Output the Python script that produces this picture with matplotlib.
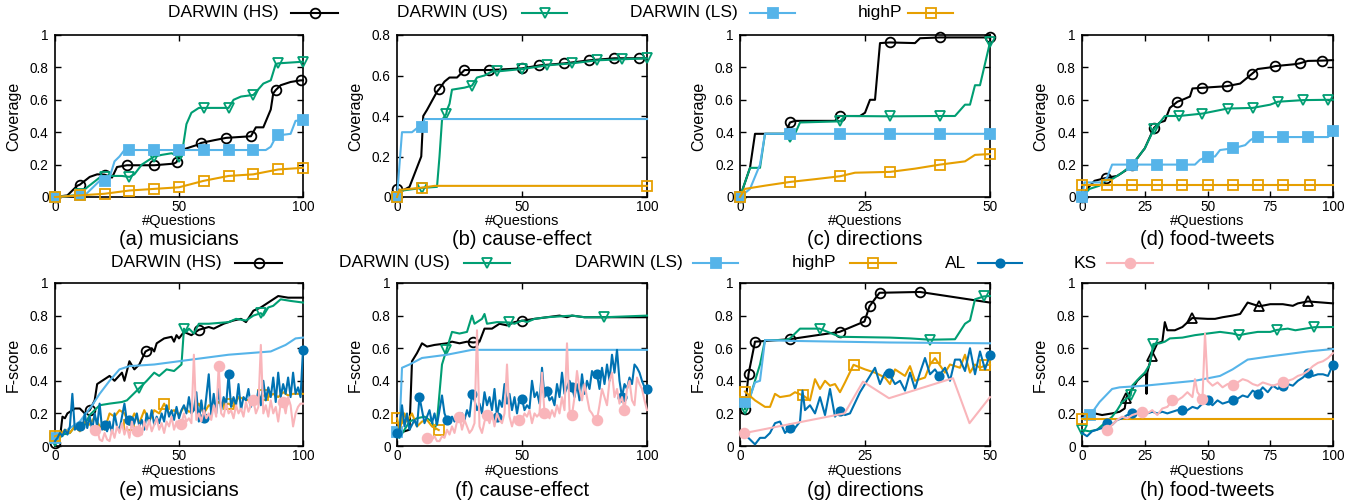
import numpy as np
import matplotlib
matplotlib.use("Agg")
import matplotlib.pyplot as plt
from matplotlib.lines import Line2D

plt.rcParams['font.family'] = ['Liberation Sans', 'DejaVu Sans']

# ---------------- data ----------------
# (a) coverage musicians
A_HS_X = [0,5,9,10,14,17,20,23,25,29,40,48,49,51,53,57,59,64,69,79,81,84,87,88,89,91,95,99,100]
A_HS_Y = [0,0.01,0.07,0.076,0.124,0.14,0.138,0.12,0.185,0.196,0.196,0.206,0.215,0.29,0.3,0.32,0.334,0.35,0.365,0.375,0.43,0.43,0.54,0.64,0.66,0.69,0.71,0.72,0.72]
A_HS_M = [0,10,20,29,40,49,59,69,79,89,99]
A_US_X = [0,8,10,13,18,20,22,27,30,32,35,39,40,43,47,50,51,53,55,58,60,68,70,72,75,80,84,87,89,90,95,100]
A_US_Y = [0,0.01,0.02,0.06,0.12,0.125,0.13,0.13,0.124,0.14,0.2,0.24,0.25,0.26,0.27,0.25,0.25,0.45,0.52,0.55,0.55,0.55,0.55,0.6,0.62,0.63,0.7,0.72,0.82,0.825,0.83,0.835]
A_US_M = [0,10,20,30,40,50,60,70,80,90,100]
A_LS_X = [0,10,12,18,20,22,24,26,28,30,40,50,60,70,80,85,87,89,90,95,97,100]
A_LS_Y = [0,0.01,0.01,0.1,0.1,0.12,0.22,0.25,0.29,0.29,0.29,0.29,0.29,0.29,0.29,0.29,0.31,0.37,0.38,0.39,0.47,0.475]
A_LS_M = [0,10,20,30,40,50,60,70,80,90,100]
A_HP_X = [0,10,20,30,40,50,55,60,70,80,90,100]
A_HP_Y = [0,0.01,0.02,0.04,0.05,0.06,0.08,0.1,0.13,0.14,0.17,0.18]
A_HP_M = [0,10,20,30,40,50,60,70,80,90,100]

# (b) coverage cause-effect
B_HS_X = [0,2,5,9.7,10.5,12,16,17,19,21,24,27,37,45,50,57,67,77,87,97,100]
B_HS_Y = [0.04,0.03,0.05,0.2,0.4,0.43,0.52,0.535,0.57,0.59,0.59,0.627,0.627,0.632,0.635,0.65,0.66,0.675,0.685,0.685,0.685]
B_HS_M = [0,17,27,37,50,57,67,77,87,97]
B_US_X = [0,1,10,16,17,18,19.7,20,21,22,27,30,32,35,38,40,50,60,70,80,90,100]
B_US_Y = [0,0.03,0.045,0.05,0.2,0.38,0.41,0.43,0.46,0.53,0.54,0.55,0.59,0.6,0.62,0.62,0.632,0.65,0.66,0.675,0.68,0.685]
B_US_M = [10,19.7,30,40,50,60,70,80,90,100]
B_LS_X = [0,2,6,8,10,11,100]
B_LS_Y = [0,0.32,0.32,0.34,0.346,0.385,0.385]
B_LS_M = [0,10]
B_HP_X = [0,1,5,10,15,100]
B_HP_Y = [0,0.035,0.04,0.046,0.055,0.055]
B_HP_M = [0,10,100]

# (c) coverage directions
C_HS_X = [0,2,3,9,10,11,19,20,24,25,26,27,28,30,35,36,40,50]
C_HS_Y = [0,0.18,0.39,0.39,0.46,0.47,0.47,0.5,0.5,0.52,0.6,0.6,0.95,0.954,0.95,0.98,0.985,0.985]
C_HS_M = [0,10,20,30,40,50]
C_US_X = [0,2,4,5,9,10,11,12,20,21,30,40,43,45,46,47,48,50]
C_US_Y = [0,0.18,0.18,0.39,0.39,0.373,0.39,0.46,0.467,0.5,0.498,0.5,0.5,0.57,0.57,0.69,0.69,0.955]
C_US_M = [0,10,20,30,40,50]
C_LS_X = [0,2,4,5,10,20,30,40,50]
C_LS_Y = [0,0.05,0.2,0.39,0.39,0.39,0.39,0.39,0.39]
C_LS_M = [0,10,20,30,40,50]
C_HP_X = [0,1,5,10,15,20,23,30,35,40,45,47,50]
C_HP_Y = [0,0.05,0.07,0.093,0.11,0.128,0.15,0.155,0.175,0.2,0.22,0.26,0.265]
C_HP_M = [0,10,20,30,40,50]

# (d) coverage food-tweets
D_HS_X = [0,2,5,9.6,14,18,20,24,25,28.7,31,33,35,38,40,43,44,47.7,57.7,63,67.7,70,75,77,85,86.7,90,95.7,100]
D_HS_Y = [0,0.05,0.1,0.118,0.13,0.17,0.196,0.28,0.3,0.427,0.46,0.47,0.55,0.588,0.6,0.62,0.67,0.674,0.684,0.7,0.76,0.79,0.8,0.808,0.82,0.825,0.84,0.842,0.845]
D_HS_M = [0,9.6,20,28.7,38,47.7,57.7,67.7,77,86.7,95.7]
D_US_X = [0,3,7,9,12,16,20,24,25,28.7,31,33,38.7,48,58,68,75,78,88,98,100]
D_US_Y = [0,0.05,0.07,0.1,0.11,0.15,0.2,0.28,0.3,0.42,0.46,0.5,0.5,0.515,0.546,0.55,0.57,0.588,0.598,0.6,0.6]
D_US_M = [28.7,38.7,48,58,68,78,88,98]
D_LS_X = [0,1,8,10,12,20,30,40,45,47,50,53,55,60,65,67,69,70,80,90,98,100]
D_LS_Y = [0,0.09,0.09,0.12,0.2,0.2,0.2,0.2,0.2,0.23,0.25,0.25,0.29,0.3,0.32,0.35,0.37,0.37,0.37,0.37,0.37,0.41]
D_LS_M = [0,20,30,40,50,60,70,80,90,100]
D_HP_X = [0,10,20,30,40,50,60,70,80,91,100]
D_HP_Y = [0.075,0.075,0.075,0.075,0.075,0.075,0.075,0.075,0.075,0.075,0.075]
D_HP_M = [0,10,20,30,40,50,60,70,80,91]

# (e) F-score musicians
E_HS_X = [0,2,3,4,5,8,10,12,14,16,17,19,22,24,27,28,30,32,34,36.5,39,40,41,44,47,48,49,50,52,55,58,62,64,68,72,75,77,80,83,86,90,94,100]
E_HS_Y = [0.02,0.05,0.18,0.17,0.2,0.23,0.23,0.2,0.22,0.28,0.38,0.4,0.43,0.4,0.45,0.4,0.52,0.47,0.5,0.58,0.6,0.58,0.63,0.66,0.67,0.64,0.68,0.66,0.7,0.68,0.713,0.73,0.72,0.75,0.77,0.78,0.76,0.83,0.85,0.88,0.92,0.91,0.91]
E_HS_M = [0,14,36.5,58]
E_US_X = [0,2,3,6,8,12,14,18,22,27,29,34,37,40,42,45,48,51,52,53,54,56,58,62,70,73,77,78,80,83,84,86,88,91,95,100]
E_US_Y = [0.03,0.05,0.07,0.08,0.12,0.13,0.19,0.25,0.26,0.27,0.28,0.355,0.4,0.45,0.43,0.47,0.46,0.5,0.72,0.7,0.72,0.69,0.75,0.75,0.76,0.78,0.77,0.78,0.8,0.815,0.8,0.85,0.86,0.9,0.89,0.88]
E_US_M = [0,34,52,83]
E_LS_X = [0,5,10,15,18,22,26,30,40,50,60,70,87,90,93,97,100]
E_LS_Y = [0.05,0.1,0.15,0.25,0.32,0.4,0.47,0.49,0.5,0.52,0.54,0.56,0.58,0.6,0.62,0.66,0.665]
E_LS_M = [0]
E_HP_X = list(range(0, 101, 2))
E_HP_Y = [0.06,0.07,0.1,0.08,0.12,0.09,0.15,0.13,0.18,0.12,0.1,0.2,0.18,0.22,0.2,0.13,0.2,0.14,0.22,0.15,
          0.22,0.2,0.26,0.2,0.22,0.19,0.24,0.21,0.22,0.26,0.2,0.25,0.24,0.27,0.25,0.26,0.24,0.3,0.29,0.28,
          0.3,0.29,0.31,0.3,0.32,0.3,0.33,0.31,0.32,0.32,0.32]
E_HP_M = [0,30,44,70,84]
E_AL_X = list(range(0, 101))
E_AL_Y = [0.03,0.05,0.08,0.06,0.1,0.07,0.12,0.32,0.1,0.12,
          0.12,0.1,0.2,0.11,0.18,0.1,0.2,0.12,0.26,0.1,
          0.13,0.09,0.15,0.08,0.2,0.12,0.1,0.18,0.26,0.15,
          0.16,0.12,0.14,0.2,0.12,0.16,0.1,0.2,0.14,0.22,
          0.13,0.18,0.14,0.2,0.15,0.25,0.18,0.22,0.16,0.24,
          0.17,0.22,0.25,0.2,0.3,0.2,0.22,0.33,0.15,0.28,
          0.17,0.3,0.44,0.19,0.32,0.2,0.35,0.22,0.3,0.25,
          0.44,0.24,0.3,0.25,0.38,0.22,0.3,0.28,0.35,0.24,
          0.3,0.26,0.34,0.25,0.4,0.28,0.36,0.3,0.42,0.27,
          0.45,0.3,0.38,0.32,0.42,0.3,0.45,0.32,0.36,0.3,
          0.59]
E_AL_M = [10,20,30,60,70,100]
E_KS_X = list(range(15, 101))
E_KS_Y = [0.12,0.1,0.1,0.04,0.03,0.08,0.04,0.03,0.1,0.05,
          0.12,0.08,0.14,0.07,0.12,0.05,0.15,0.08,0.09,0.13,
          0.07,0.15,0.1,0.16,0.09,0.13,0.17,0.1,0.14,0.08,
          0.15,0.12,0.18,0.1,0.15,0.13,0.135,0.2,0.15,0.17,
          0.14,0.56,0.16,0.2,0.15,0.22,0.17,0.2,0.16,0.25,
          0.18,0.49,0.2,0.18,0.26,0.2,0.22,0.17,0.25,0.2,
          0.23,0.18,0.27,0.21,0.25,0.28,0.2,0.24,0.62,0.2,
          0.25,0.18,0.28,0.2,0.24,0.15,0.26,0.27,0.2,0.3,
          0.25,0.12,0.2,0.24,0.26,0.26]
E_KS_M = [16,33,51,66,80,92]

# (f) F-score cause-effect
F_HS_X = [0,3,5,6,8,10,12,15,20,22,25,28,30.5,33,35,38,41,44,47,50,55,60,65,68,70,75,100]
F_HS_Y = [0.08,0.09,0.1,0.52,0.57,0.63,0.61,0.62,0.63,0.64,0.63,0.64,0.635,0.64,0.72,0.72,0.75,0.74,0.76,0.768,0.78,0.79,0.8,0.79,0.8,0.79,0.79]
F_HS_M = [30.5,50]
F_US_X = [0,1,3,5,8,11,14,15,16,18,19.8,20,22,25,28,30,31,34,35,36,40,44.8,47,50,52,55,60,70,75,83,100]
F_US_Y = [0.1,0.05,0.1,0.15,0.17,0.18,0.15,0.1,0.15,0.5,0.59,0.6,0.7,0.69,0.7,0.8,0.75,0.78,0.81,0.75,0.76,0.758,0.75,0.77,0.76,0.78,0.79,0.8,0.79,0.79,0.8]
F_US_M = [19.8,44.8,83]
F_LS_X = [0,1,2,5,10,20,30,100]
F_LS_Y = [0.088,0.1,0.48,0.5,0.54,0.56,0.59,0.59]
F_LS_M = [0]
F_HP_X = [0,1,3,4,6,8,10,12,14,16.7]
F_HP_Y = [0.17,0.1,0.2,0.15,0.2,0.12,0.15,0.16,0.12,0.098]
F_HP_M = [0,16.7]
F_AL_X = list(range(0, 101))
F_AL_Y = [0.08,0.1,0.25,0.12,0.2,0.1,0.13,0.16,0.12,0.3,
          0.22,0.14,0.18,0.22,0.14,0.2,0.13,0.22,0.31,0.2,
          0.16,0.14,0.18,0.15,0.19,0.17,0.2,0.16,0.22,0.18,
          0.32,0.28,0.22,0.26,0.2,0.33,0.25,0.3,0.22,0.35,
          0.18,0.28,0.24,0.38,0.26,0.32,0.22,0.3,0.2,0.29,
          0.29,0.22,0.25,0.23,0.4,0.3,0.33,0.26,0.48,0.3,
          0.34,0.28,0.3,0.25,0.38,0.3,0.45,0.32,0.36,0.4,
          0.36,0.3,0.38,0.28,0.44,0.32,0.4,0.35,0.46,0.42,
          0.44,0.35,0.48,0.38,0.5,0.4,0.56,0.45,0.59,0.4,
          0.3,0.38,0.35,0.42,0.38,0.5,0.48,0.45,0.4,0.36,
          0.35]
F_AL_M = [0,9,20,30,40,50,60,70,80,90,100]
F_KS_X = list(range(12, 101))
F_KS_Y = [0.05,0.05,0.04,0.06,0.03,0.03,0.06,0.05,0.1,0.07,
          0.12,0.08,0.15,0.18,0.1,0.16,0.12,0.08,0.1,0.14,
          0.71,0.12,0.08,0.15,0.19,0.14,0.2,0.12,0.2,0.16,
          0.14,0.2,0.5,0.18,0.12,0.18,0.15,0.16,0.16,0.2,
          0.18,0.22,0.14,0.2,0.18,0.2,0.45,0.2,0.2,0.17,
          0.22,0.18,0.25,0.2,0.3,0.22,0.63,0.22,0.19,0.3,
          0.46,0.35,0.28,0.38,0.3,0.22,0.2,0.17,0.16,0.25,
          0.35,0.3,0.25,0.4,0.45,0.3,0.35,0.26,0.3,0.22,
          0.35,0.4,0.28,0.25,0.42,0.38,0.35,0.28,0.22]
F_KS_M = [12,25,36,49,59,70,80,91]

# (g) F-score directions
G_HS_X = [1,1.7,3,9.9,19.9,24.9,25.9,27.9,36,50]
G_HS_Y = [0.23,0.44,0.64,0.655,0.7,0.764,0.857,0.94,0.945,0.88]
G_HS_M = [1,1.7,3,9.9,19.9,24.9,25.9,27.9,36]
G_US_X = [1,2,3,4,5,9,10,12,15.9,20,30,34,38,43,45,46,47,48.8,50]
G_US_Y = [0.225,0.3,0.4,0.5,0.65,0.65,0.66,0.72,0.72,0.67,0.665,0.66,0.652,0.655,0.75,0.77,0.9,0.918,0.92]
G_US_M = [1,15.9,38,48.8]
G_LS_X = [1,2,3,4,5,10,20,30,50]
G_LS_Y = [0.273,0.3,0.39,0.4,0.65,0.645,0.64,0.635,0.63]
G_LS_M = [1]
G_HP_X = [1,3,5,6,7,8,10,11,12.6,14,15,16,17,18,19,20,21,22.7,25,27,29,30,31,33,34,35,37,38,39,41,42,44,45,46,47,48,49,50]
G_HP_Y = [0.334,0.28,0.24,0.24,0.32,0.3,0.31,0.33,0.31,0.28,0.41,0.35,0.4,0.37,0.38,0.33,0.39,0.498,0.47,0.45,0.42,0.38,0.47,0.43,0.49,0.4,0.42,0.5,0.539,0.45,0.5,0.48,0.56,0.45,0.5,0.48,0.494,0.5]
G_HP_M = [1,12.6,22.7,39,49]
G_AL_X = [1,2,3,4,5,6,7,8,9,9.9,11,12,12.5,13,14,15,16,17,18,19,19.9,21,22,24,26,27,28,29,29.7,31,32,33,34,35,36,37,38,39,39.8,41,42,43,44,45,46,47,48,49,50]
G_AL_Y = [0.07,0.04,0.01,0.05,0.05,0.08,0.14,0.15,0.08,0.11,0.11,0.15,0.34,0.22,0.25,0.2,0.3,0.19,0.35,0.18,0.215,0.19,0.2,0.33,0.43,0.48,0.38,0.45,0.45,0.38,0.4,0.34,0.45,0.35,0.45,0.54,0.44,0.47,0.432,0.48,0.4,0.53,0.53,0.46,0.6,0.44,0.58,0.47,0.56]
G_AL_M = [9.9,19.9,29.7,39.8,50]
G_KS_X = [0.7,20.9,24.6,29.8,42.6,45.9,50]
G_KS_Y = [0.078,0.2,0.395,0.293,0.416,0.14,0.3]
G_KS_M = [0.7]

# (h) F-score food-tweets
H_HS_X = [0,5,8,12,15,17,17.7,20,22,24,25,25.5,25.7,26,27.7,30,32,33,34,37,40,43.9,50,53,56,60,63,66,68,70.7,75,80,84,86,90,100]
H_HS_Y = [0.18,0.2,0.19,0.2,0.21,0.23,0.297,0.35,0.4,0.43,0.44,0.44,0.32,0.45,0.553,0.63,0.64,0.76,0.71,0.71,0.73,0.785,0.78,0.78,0.79,0.8,0.81,0.88,0.87,0.857,0.87,0.87,0.86,0.875,0.887,0.875]
H_HS_M = [17.7,27.7,43.9,70.7,90]
H_US_X = [0,3,6,9,12,14,16,19.4,20,23,25,27,28.4,31,33,35,40,45,50,55,60,62.6,66,70,75,77.6,82,85,92.6,100]
H_US_Y = [0.098,0.09,0.1,0.14,0.18,0.22,0.27,0.31,0.37,0.42,0.45,0.5,0.626,0.63,0.64,0.66,0.665,0.68,0.69,0.7,0.69,0.68,0.69,0.7,0.7,0.712,0.72,0.71,0.729,0.73]
H_US_M = [0,19.4,28.4,62.6,77.6,92.6]
H_LS_X = [0,3.3,7,12,15,25,45,55,60,66,75,90,100]
H_LS_Y = [0.17,0.19,0.27,0.35,0.36,0.37,0.4,0.43,0.47,0.53,0.55,0.58,0.595]
H_LS_M = [3.3]
H_HP_X = [0,100]
H_HP_Y = [0.168,0.168]
H_HP_M = [0]
H_AL_X = list(range(0, 101, 2))
H_AL_Y = [0.08,0.06,0.09,0.1,0.11,0.14,0.13,0.16,0.17,0.19,
          0.2,0.2,0.21,0.2,0.21,0.2,0.21,0.2,0.21,0.22,
          0.22,0.22,0.24,0.23,0.26,0.28,0.25,0.28,0.26,0.27,
          0.28,0.29,0.31,0.3,0.34,0.32,0.36,0.33,0.37,0.35,
          0.37,0.38,0.37,0.4,0.42,0.45,0.43,0.44,0.44,0.43,
          0.5]
H_AL_M = [10,20,40,50,60,70,80,90,100]
H_KS_X = [10,12,14,16,18,20,22,24,26,28,30,32,34,36,38,40,42,44,45,46,48,49,50,
          52,54,56,58,60,62,64,66,68,70,72,74,76,78,80,82,84,86,88,90,92,94,96,98,100]
H_KS_Y = [0.1,0.13,0.16,0.18,0.17,0.19,0.2,0.21,0.2,0.22,0.19,0.23,0.24,0.28,0.28,0.3,0.33,0.3,0.41,0.33,0.29,0.69,0.4,
          0.37,0.39,0.36,0.38,0.375,0.39,0.41,0.4,0.38,0.37,0.39,0.38,0.37,0.38,0.39,0.4,0.41,0.43,0.44,0.46,0.49,0.51,0.52,0.54,0.57]
H_KS_M = [10,24,36,48,60,80]

LEGEND_LABELS = ['DARWIN (HS)', 'DARWIN (US)', 'DARWIN (LS)', 'highP', 'AL', 'KS']
TITLES_TOP = ['(a) musicians', '(b) cause-effect', '(c) directions', '(d) food-tweets']
TITLES_BOT = ['(e) musicians', '(f) cause-effect', '(g) directions', '(h) food-tweets']

# ---------------- style ----------------
GREEN = '#009E73'
LBLUE = '#56B4E9'
ORANGE = '#E69F00'
DBLUE = '#0072B2'
PINK = '#F9B5BA'
STY = {
    'HS': dict(color='black', marker='o', mfc='none', ms=7),
    'US': dict(color=GREEN, marker='v', mfc='none', ms=7.5),
    'LS': dict(color=LBLUE, marker='s', mfc=LBLUE, ms=6.5),
    'HP': dict(color=ORANGE, marker='s', mfc='none', ms=7),
    'AL': dict(color=DBLUE, marker='o', mfc=DBLUE, ms=6),
    'KS': dict(color=PINK, marker='o', mfc=PINK, ms=7),
}
KEYS = ['HS', 'US', 'LS', 'HP', 'AL', 'KS']

W, H = 1359, 504
fig = plt.figure(figsize=(W / 100, H / 100), dpi=100)


def rect(l, r, t, b):
    return [l / W, 1 - b / H, (r - l) / W, (b - t) / H]


def draw(ax, x, y, key, mk, marker=None):
    st = dict(STY[key])
    if marker is not None:
        st['marker'] = marker
    x = np.asarray(x, float)
    idx = [int(np.argmin(np.abs(x - m))) for m in mk]
    ax.plot(x, y, color=st['color'], lw=1.5, marker=st['marker'], ms=st['ms'],
            mfc=st['mfc'], mec=st['color'], mew=1.3, markevery=idx,
            clip_on=False, zorder=3)


def style_axes(ax, xmax, xticks, ymax, ylabel):
    ax.set_xlim(0, xmax)
    ax.set_ylim(0, ymax)
    ax.set_xticks(xticks)
    ax.set_xticklabels([str(t) for t in xticks])
    yt = np.round(np.arange(0, ymax + 1e-9, 0.2), 1)
    ax.set_yticks(yt)
    ax.set_yticklabels(['%g' % v for v in yt])
    ax.tick_params(direction='in', top=True, right=True, length=4, width=1,
                   labelsize=9.8, colors='black')
    ax.tick_params(axis='x', pad=2.5)
    ax.tick_params(axis='y', pad=4.5)
    for s in ax.spines.values():
        s.set_linewidth(1.2)
    ax.set_ylabel(ylabel, fontsize=11.5)
    ax.yaxis.set_label_coords(-34 / (ax.get_position().width * W), 0.5)


cols = [(55, 303), (397, 647), (740, 990), (1082, 1333)]
row1 = (35, 197)
row2 = (283, 446)

top_data = [
    (100, [0, 50, 100], 1.0, [(A_HS_X, A_HS_Y, A_HS_M), (A_US_X, A_US_Y, A_US_M), (A_LS_X, A_LS_Y, A_LS_M), (A_HP_X, A_HP_Y, A_HP_M)]),
    (100, [0, 50, 100], 0.8, [(B_HS_X, B_HS_Y, B_HS_M), (B_US_X, B_US_Y, B_US_M), (B_LS_X, B_LS_Y, B_LS_M), (B_HP_X, B_HP_Y, B_HP_M)]),
    (50, [0, 25, 50], 1.0, [(C_HS_X, C_HS_Y, C_HS_M), (C_US_X, C_US_Y, C_US_M), (C_LS_X, C_LS_Y, C_LS_M), (C_HP_X, C_HP_Y, C_HP_M)]),
    (100, [0, 25, 50, 75, 100], 1.0, [(D_HS_X, D_HS_Y, D_HS_M), (D_US_X, D_US_Y, D_US_M), (D_LS_X, D_LS_Y, D_LS_M), (D_HP_X, D_HP_Y, D_HP_M)]),
]
bot_data = [
    (100, [0, 50, 100], [(E_HS_X, E_HS_Y, E_HS_M), (E_US_X, E_US_Y, E_US_M), (E_LS_X, E_LS_Y, E_LS_M), (E_HP_X, E_HP_Y, E_HP_M), (E_AL_X, E_AL_Y, E_AL_M), (E_KS_X, E_KS_Y, E_KS_M)]),
    (100, [0, 50, 100], [(F_HS_X, F_HS_Y, F_HS_M), (F_US_X, F_US_Y, F_US_M), (F_LS_X, F_LS_Y, F_LS_M), (F_HP_X, F_HP_Y, F_HP_M), (F_AL_X, F_AL_Y, F_AL_M), (F_KS_X, F_KS_Y, F_KS_M)]),
    (50, [0, 25, 50], [(G_HS_X, G_HS_Y, G_HS_M), (G_US_X, G_US_Y, G_US_M), (G_LS_X, G_LS_Y, G_LS_M), (G_HP_X, G_HP_Y, G_HP_M), (G_AL_X, G_AL_Y, G_AL_M), (G_KS_X, G_KS_Y, G_KS_M)]),
    (100, [0, 25, 50, 75, 100], [(H_HS_X, H_HS_Y, H_HS_M), (H_US_X, H_US_Y, H_US_M), (H_LS_X, H_LS_Y, H_LS_M), (H_HP_X, H_HP_Y, H_HP_M), (H_AL_X, H_AL_Y, H_AL_M), (H_KS_X, H_KS_Y, H_KS_M)]),
]

for i, (l, r) in enumerate(cols):
    xmax, xt, ymax, series = top_data[i]
    ax = fig.add_axes(rect(l, r, *row1))
    for key, (x, y, m) in zip(KEYS, series):
        draw(ax, x, y, key, m)
    style_axes(ax, xmax, xt, ymax, 'Coverage')
    cx = (l + r) / 2 / W
    fig.text(cx, 1 - 225.5 / H, '#Questions', ha='center', va='baseline', fontsize=10.5)
    fig.text(cx, 1 - 245 / H, TITLES_TOP[i], ha='center', va='baseline', fontsize=14.5)

for i, (l, r) in enumerate(cols):
    xmax, xt, series = bot_data[i]
    ax = fig.add_axes(rect(l, r, *row2))
    for key, (x, y, m) in zip(KEYS, series):
        draw(ax, x, y, key, m, marker='^' if (i == 3 and key == 'HS') else None)
    style_axes(ax, xmax, xt, 1.0, 'F-score')
    cx = (l + r) / 2 / W
    fig.text(cx, 1 - 475 / H, '#Questions', ha='center', va='baseline', fontsize=10.5)
    fig.text(cx, 1 - 496 / H, TITLES_BOT[i], ha='center', va='baseline', fontsize=14.5)


# ---------------- legends (text then sample, gnuplot style) ----------------
def legend_entry(label, key, text_right, x1, x2, yc):
    st = STY[key]
    fig.text(text_right / W, 1 - yc / H, label, ha='right', va='center', fontsize=12.5)
    xs = [x1 / W, (x1 + x2) / 2 / W, x2 / W]
    ys = [1 - yc / H] * 3
    ln = Line2D(xs, ys, transform=fig.transFigure, color=st['color'], lw=1.5,
                marker=st['marker'], ms=st['ms'], mfc=st['mfc'], mec=st['color'],
                mew=1.3, markevery=[1])
    fig.add_artist(ln)


top_leg = [(279, 291, 338), (508, 522, 567), (738, 750, 795), (902, 908, 953)]
for k, (tr, a, b) in enumerate(top_leg):
    legend_entry(LEGEND_LABELS[k], KEYS[k], tr, a, b, 13)

bot_leg = [(222, 235, 282), (450, 464, 510), (683, 693, 738), (836, 850, 896), (966, 978, 1022), (1097, 1107, 1153)]
for k, (tr, a, b) in enumerate(bot_leg):
    legend_entry(LEGEND_LABELS[k], KEYS[k], tr, a, b, 263)

fig.savefig('out.png', dpi=100)
